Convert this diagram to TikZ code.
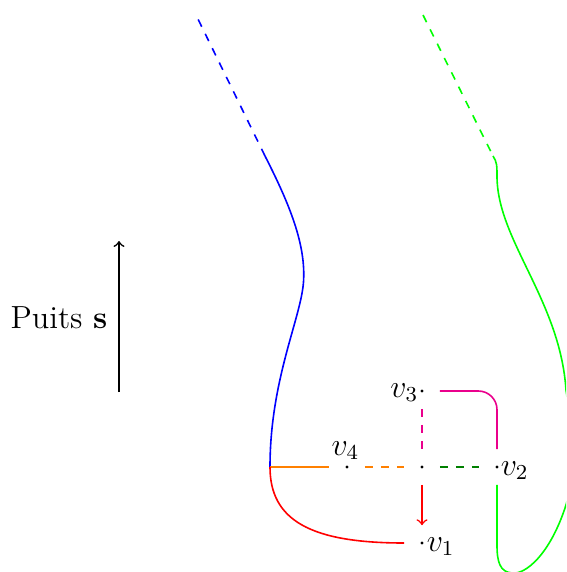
\documentclass[tikz,border=0pt,12pt]{standalone}
\definecolor{mag}{RGB}{234,0,140}
\definecolor{dgreen}{RGB}{0,128,0}
\begin{document}
\begin{tikzpicture}[x=0.375pt,y=-0.375pt,
  line width=0.6pt,
  pt/.style={circle,minimum size=12.75pt,inner sep=0pt},
  lab/.style={inner sep=0pt},
  >=to]
\useasboundingbox (0,0) rectangle (566,572);
\clip (0,0) rectangle (566,572);
% points
\node[pt] (v1) at (422,543) {};
\node[pt] (v2) at (497,467) {};
\node[pt] (v3) at (422,391) {};
\node[pt] (v4) at (347,467) {};
\node[pt] (c)  at (422,467) {};
\foreach \n in {v1,v2,v3,v4,c} \fill (\n) circle (0.6pt);
% labels
\node[lab,anchor=base west] (l1) at (426,551) {$v_1$};
\node[lab,anchor=base west] (l2) at (500,475) {$v_2$};
\node[lab,anchor=base east] (l3) at (419,397) {$v_3$};
\node[lab,anchor=base] (l4) at (345.5,455) {$v_4$};
% Puits arrow
\coordinate (pa) at (119,392);
\coordinate (pb) at (119,241);
\draw[->] (pa) -- (pb);
\node[lab,anchor=base east] (puits) at (108,328) {Puits $\mathbf{s}$};
% blue
\coordinate (j) at (270,467);
\coordinate (b1) at (265,156);
\coordinate (b0) at (196,15);
\draw[blue] (j) .. controls (270,380) and (301,318) .. (303.5,282) .. controls (306,245) and (290,205) .. (b1);
\draw[blue,dashed] (b1) -- (b0);
% green
\coordinate (g0) at (423,15);
\coordinate (g1) at (493,156);
\draw[green,dashed] (g0) -- (g1);
\draw[green] (g1) .. controls (497,162) and (497,166) .. (497,176)
  .. controls (497,240) and (560,300) .. (566,390)
  .. controls (572,430) and (576,470) .. (566,505)
  .. controls (550,555) and (525,575) .. (512,573)
  .. controls (500,572) and (497,562) .. (497,545) -- (v2);
% magenta
\draw[mag,rounded corners=7pt] (v3) -| (v2);
\draw[mag,dashed] (v3) -- (c);
% orange
\draw[orange] (j) -- (v4);
\draw[orange,dashed] (v4) -- (c);
% dark green
\draw[dgreen,dashed] (c) -- (v2);
% red
\draw[red,->] (c) -- (v1);
\draw[red] (j) .. controls (270,520) and (310,543) .. (v1);
\end{tikzpicture}
\end{document}
